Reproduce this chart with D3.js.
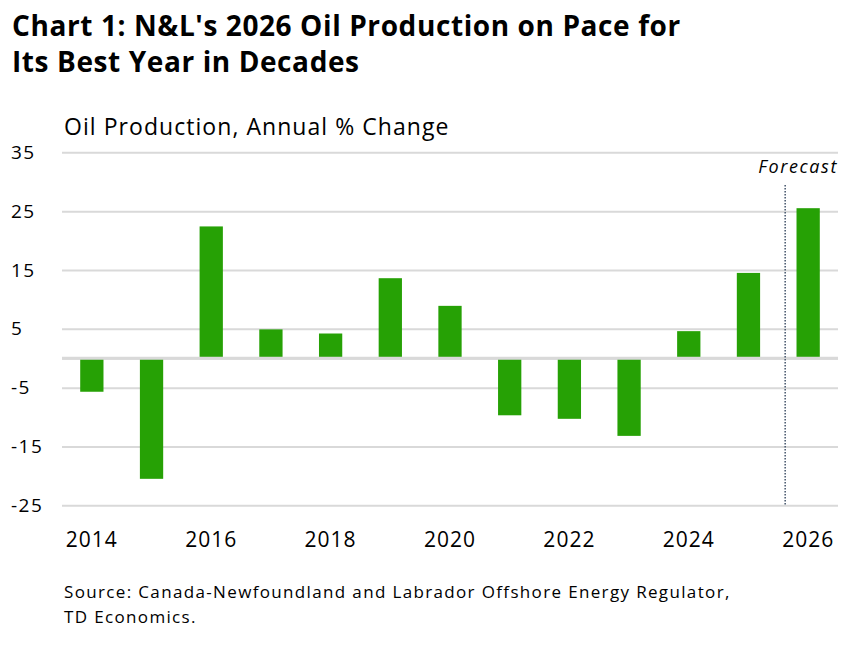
<html><head>
<meta charset="utf-8">
<script src="https://d3js.org/d3.v7.min.js"></script>
<style>
  body { margin: 0; background: #fff; }
  text { font-family: "Open Sans", "Noto Sans", sans-serif; fill: #000; }
  .gridlines line { stroke: #d9d9d9; stroke-width: 2px; }
  .gridlines .domain { stroke: none; }
  .axis .domain, .axis line { stroke: none; }
</style>
</head>
<body>
<svg id="chart" width="868" height="648"></svg>
<script>
  // data
  const years = ["2014","2015","2016","2017","2018","2019","2020","2021","2022","2023","2024","2025","2026"];
  const change = [-5.7, -20.5, 22.4, 4.9, 4.2, 13.6, 8.9, -9.7, -10.3, -13.2, 4.6, 14.5, 25.5];
  const yTicks = [35, 25, 15, 5, -5, -15, -25];
  const xLabels = ["2014","2016","2018","2020","2022","2024","2026"];

  const svg = d3.select("svg#chart");
  const plotLeft = 62, plotRight = 838, plotTop = 152.3, plotBottom = 505.3;

  const xScale = d3.scaleBand().domain(years).range([plotLeft, plotRight]).paddingInner(0.61).paddingOuter(0.305);
  const yScale = d3.scaleLinear().domain([-25, 35]).range([plotBottom, plotTop]);

  // titles
  const title = svg.append("text")
    .style("font-size", "28px").style("font-weight", "700").style("letter-spacing", "0.6px");
  title.append("tspan").attr("x", 12).attr("y", 36).text("Chart 1: N&L's 2026 Oil Production on Pace for");
  title.append("tspan").attr("x", 12).attr("y", 72).text("Its Best Year in Decades");

  svg.append("text").attr("x", 64).attr("y", 135)
    .style("font-size", "23px").style("letter-spacing", "1.05px")
    .text("Oil Production, Annual % Change");

  // gridlines (ticks plus the zero line)
  let grid = d3.axisLeft(yScale).tickValues(yTicks.concat([0])).tickSize(-(plotRight - plotLeft)).tickFormat("");
  svg.append("g").attr("class", "gridlines")
    .attr("transform", "translate(" + plotLeft + ",0)")
    .call(grid);

  // y labels (plain hyphen for negatives, like the original)
  let yAxis = d3.axisLeft(yScale).tickValues(yTicks).tickSize(0).tickPadding(0).tickFormat(d => String(d));
  svg.append("g").attr("class", "axis y")
    .attr("transform", "translate(11,0)")
    .call(yAxis)
    .call(g => g.selectAll("text").attr("text-anchor", "start").attr("x", 0)
      .style("font-size", "19px").style("letter-spacing", "1.5px"))
    .attr("font-family", null);

  // bars
  svg.append("g").selectAll("rect")
    .data(years)
    .join("rect")
    .attr("x", d => xScale(d))
    .attr("width", xScale.bandwidth())
    .attr("y", (d, i) => yScale(Math.max(0, change[i])))
    .attr("height", (d, i) => Math.abs(yScale(change[i]) - yScale(0)))
    .attr("fill", "#26a105");

  // zero line drawn above the bars
  svg.append("line")
    .attr("x1", plotLeft).attr("x2", plotRight)
    .attr("y1", yScale(0)).attr("y2", yScale(0))
    .attr("stroke", "#d9d9d9").attr("stroke-width", 3);

  // x labels
  let xAxis = d3.axisBottom(xScale).tickValues(xLabels).tickSize(0).tickPadding(0);
  svg.append("g").attr("class", "axis x")
    .attr("transform", "translate(0,532)")
    .call(xAxis)
    .call(g => g.selectAll("text").style("font-size", "21px").style("letter-spacing", "1px"))
    .attr("font-family", null);

  // forecast marker
  const fx = xScale("2026") - xScale.step() * 0.19;
  svg.append("line")
    .attr("x1", fx).attr("x2", fx)
    .attr("y1", 185).attr("y2", plotBottom)
    .attr("stroke", "#44546a").attr("stroke-width", 1.5)
    .attr("stroke-dasharray", "1.5,1.5");
  svg.append("text").attr("x", plotRight).attr("y", 173)
    .attr("text-anchor", "end")
    .style("font-size", "18px").style("font-style", "italic").style("letter-spacing", "1.6px")
    .text("Forecast");

  // source
  const src = svg.append("text").style("font-size", "17px").style("letter-spacing", "1.35px");
  src.append("tspan").attr("x", 64).attr("y", 598)
    .text("Source: Canada-Newfoundland and Labrador Offshore Energy Regulator,");
  src.append("tspan").attr("x", 64).attr("y", 623).text("TD Economics.");
</script>
</body>
</html>
